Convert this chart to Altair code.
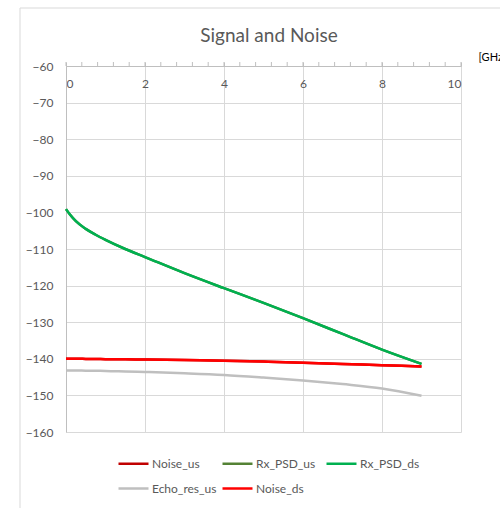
import altair as alt
import pandas as pd

# ---- data ----
freq_ghz = [0, 0.1, 0.25, 0.5, 0.75, 1, 1.5, 2, 3, 4, 5, 6, 7, 8, 9]
noise_us = [-140.0, -140.0, -140.0, -140.03, -140.06, -140.1, -140.15, -140.2, -140.35, -140.5, -140.75, -141.05, -141.4, -141.75, -142.1]
rx_psd_us = [-99.1, -100.6, -102.4, -104.5, -106.1, -107.5, -110.0, -112.2, -116.6, -120.7, -124.7, -128.9, -133.2, -137.5, -141.4]
rx_psd_ds = [-99.1, -100.6, -102.4, -104.5, -106.1, -107.5, -110.0, -112.2, -116.6, -120.7, -124.7, -128.9, -133.2, -137.5, -141.4]
echo_res_us = [-143.2, -143.2, -143.2, -143.25, -143.27, -143.3, -143.45, -143.6, -143.95, -144.4, -145.1, -145.9, -146.9, -148.1, -150.1]
noise_ds = [-140.0, -140.0, -140.0, -140.03, -140.06, -140.1, -140.15, -140.2, -140.35, -140.5, -140.75, -141.05, -141.4, -141.75, -142.1]

series_names = ["Noise_us", "Rx_PSD_us", "Rx_PSD_ds", "Echo_res_us", "Noise_ds"]
series_colors = ["#C00000", "#548235", "#00B050", "#BFBFBF", "#FF0000"]
series_widths = [2.5, 2.5, 2.5, 2, 2.5]
series_values = [noise_us, rx_psd_us, rx_psd_ds, echo_res_us, noise_ds]

x_major_ticks = [0, 2, 4, 6, 8, 10]
x_minor_ticks = [0, 0.4, 0.8, 1.2, 1.6, 2, 2.4, 2.8, 3.2, 3.6, 4, 4.4, 4.8, 5.2, 5.6, 6,
                 6.4, 6.8, 7.2, 7.6, 8, 8.4, 8.8, 9.2, 9.6, 10]
y_ticks = [-60, -70, -80, -90, -100, -110, -120, -130, -140, -150, -160]
chart_title = "Signal and Noise"
x_title = "[GHz]"

rows = []
for i, name in enumerate(series_names):
    for f, v in zip(freq_ghz, series_values[i]):
        rows.append({"freq": f, "value": v, "series": name, "order": i})
df = pd.DataFrame(rows)

FONT = "Lato"
TXT = "#595959"

xscale = alt.Scale(domain=[0, 10], nice=False, zero=False)
yscale = alt.Scale(domain=[-160, -60], nice=False, zero=False)

lines = alt.Chart(df).mark_line(interpolate="monotone", strokeWidth=2.5).encode(
    x=alt.X("freq:Q", scale=xscale,
            axis=alt.Axis(orient="top", values=x_major_ticks, title=x_title,
                          titleX=412, titleY=-9, titleAlign="left", titleBaseline="middle",
                          titleFont=FONT, titleFontSize=11, titleFontWeight="normal", titleColor="#000000",
                          labelFont=FONT, labelFontSize=12, labelColor=TXT, labelPadding=-28,
                          labelBaseline="bottom",
                          tickSize=4, tickColor="#BFBFBF", domainColor="#BFBFBF",
                          gridColor="#D9D9D9", grid=True)),
    y=alt.Y("value:Q", scale=yscale,
            axis=alt.Axis(values=y_ticks, title=None, labelFont=FONT, labelFontSize=12,
                          labelColor=TXT, labelPadding=13, ticks=False,
                          domainColor="#BFBFBF", gridColor="#D9D9D9")),
    color=alt.Color("series:N", sort=series_names,
                    scale=alt.Scale(domain=series_names, range=series_colors),
                    legend=alt.Legend(title=None, orient="none", legendX=51, legendY=381,
                                      direction="horizontal",
                                      columns=3, symbolType="stroke", symbolSize=900,
                                      symbolStrokeWidth=3, labelFont=FONT, labelFontSize=12,
                                      labelColor=TXT, labelOffset=2, rowPadding=2,
                                      columnPadding=0, gridAlign="all")),
    strokeWidth=alt.StrokeWidth("series:N", scale=alt.Scale(domain=series_names, range=series_widths),
                                legend=None),
    order=alt.Order("order:Q"),
    detail="series:N",
)

minor = alt.Chart(pd.DataFrame({"t": x_minor_ticks})).mark_rule(color="#BFBFBF", strokeWidth=1).encode(
    x=alt.X("t:Q", scale=xscale),
    y=alt.value(-4),
    y2=alt.value(0),
)

title = alt.Chart(pd.DataFrame({"t": [chart_title]})).mark_text(
    font=FONT, fontSize=19, color=TXT, align="center", baseline="middle"
).encode(text="t:N", x=alt.value(203), y=alt.value(-30))

border = alt.Chart(pd.DataFrame({"a": [0]})).mark_rect(
    fill="none", stroke="#D9D9D9", strokeWidth=1
).encode(
    x=alt.value(-46), x2=alt.value(500), y=alt.value(-58), y2=alt.value(520)
)

chart = alt.layer(border, lines, minor, title).properties(
    width=395, height=366,
    autosize=alt.AutoSizeParams(type="none"),
    padding={"left": 66, "top": 66, "right": 39, "bottom": 76},
    background="white",
).configure_view(stroke=None)

chart.save("out.html", embed_options={"renderer": "svg", "actions": False})
